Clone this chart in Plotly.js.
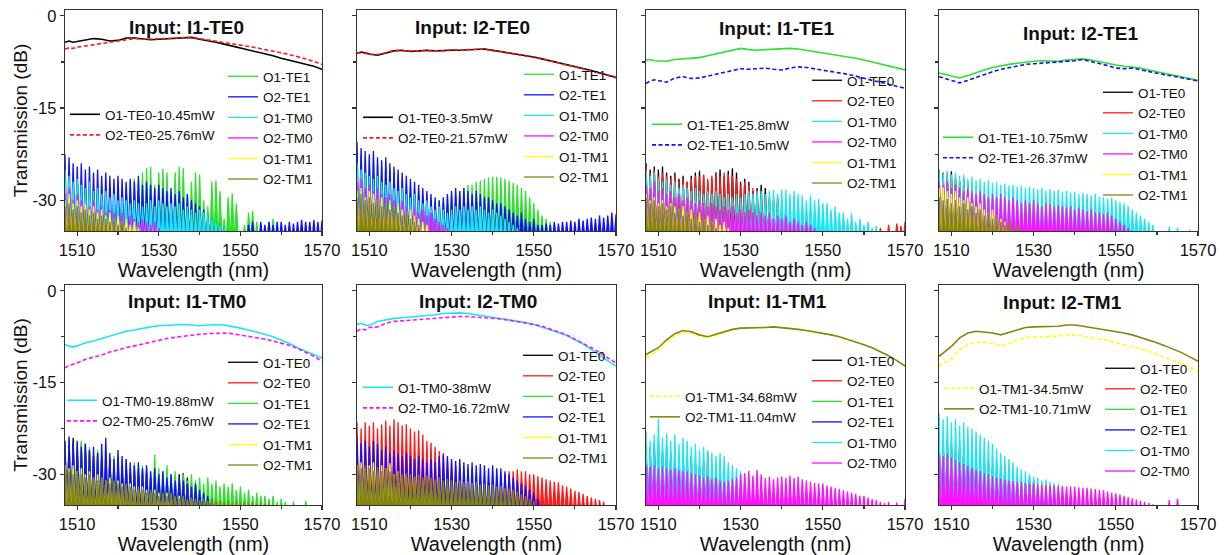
<!DOCTYPE html>
<html><head><meta charset="utf-8">
<script src="https://cdn.plot.ly/plotly-3.0.1.min.js"></script>
<style>html,body{margin:0;padding:0;background:#fff;}#chart{width:1228px;height:555px;}</style>
</head><body><div id="chart"></div>
<script>
// ---------- wavelength grids (nm) ----------
const mainWl = [1507,1508,1509,1510,1512,1514,1516,1518,1520,1522,1524,1526,1528,1530,1532,1534,1536,1538,1540,1542,1544,1546,1548,1550,1552,1554,1556,1558,1560,1562,1564,1566,1568,1570];
const noiseWl = [1507,1508,1509,1510,1511,1512,1513,1514,1515,1516,1517,1518,1519,1520,1521,1522,1523,1524,1525,1526,1527,1528,1529,1530,1531,1532,1533,1534,1535,1536,1537,1538,1539,1540,1541,1542,1543,1544,1545,1546,1547,1548,1549,1550,1551,1552,1553,1554,1555,1556,1557,1558,1559,1560,1561,1562,1563,1564,1565,1566,1567,1568,1569,1570];

// ---------- main (target) outputs, dB ----------
const m1_O1TE0 = [-4.3,-4.1,-4.3,-4.2,-4.0,-3.7,-3.8,-4.1,-4.0,-3.6,-3.6,-3.8,-3.9,-3.8,-3.7,-3.7,-3.6,-3.5,-3.8,-4.0,-4.3,-4.6,-4.9,-5.2,-5.5,-5.8,-6.1,-6.5,-6.9,-7.2,-7.5,-7.8,-8.2,-8.7];
const m1_O2TE0 = [-5.4,-5.2,-5.3,-5.1,-4.9,-4.7,-4.5,-4.4,-4.2,-3.9,-3.7,-3.8,-3.8,-3.7,-3.7,-3.6,-3.6,-3.5,-3.7,-3.9,-4.1,-4.4,-4.6,-4.8,-5.0,-5.2,-5.5,-5.7,-6.0,-6.3,-6.6,-7.0,-7.4,-7.9];
const m2_O1TE0 = [-6.1,-5.9,-6.0,-6.2,-6.4,-6.1,-5.7,-5.6,-5.8,-5.7,-5.6,-5.7,-5.6,-5.6,-5.6,-5.5,-5.4,-5.4,-5.6,-5.8,-6.0,-6.3,-6.5,-6.7,-7.0,-7.3,-7.6,-7.9,-8.3,-8.6,-8.9,-9.3,-9.6,-10.0];
const m2_O2TE0 = [-6.0,-6.0,-6.1,-6.3,-6.3,-6.0,-5.6,-5.7,-5.7,-5.6,-5.7,-5.6,-5.7,-5.5,-5.6,-5.5,-5.5,-5.4,-5.7,-5.8,-6.1,-6.3,-6.6,-6.8,-7.0,-7.3,-7.7,-8.0,-8.3,-8.7,-9.0,-9.3,-9.7,-10.1];
const m3_O1TE1 = [-7.2,-7.1,-7.3,-7.3,-7.4,-7.1,-7.0,-6.9,-6.8,-6.5,-6.2,-5.9,-5.6,-5.3,-5.5,-5.6,-5.5,-5.4,-5.4,-5.3,-5.4,-5.6,-5.9,-6.1,-6.3,-6.5,-6.7,-6.9,-7.2,-7.5,-7.8,-8.1,-8.4,-8.8];
const m3_O2TE1 = [-11.0,-10.6,-10.4,-10.5,-10.8,-10.1,-9.9,-10.2,-10.1,-9.8,-9.5,-9.3,-8.9,-8.6,-8.7,-8.6,-8.5,-8.7,-8.8,-8.5,-8.3,-8.4,-8.6,-8.8,-9.0,-9.2,-9.5,-9.8,-10.2,-10.5,-10.8,-11.1,-11.4,-11.8];
const m4_O1TE1 = [-9.3,-9.4,-9.6,-9.8,-10.1,-9.7,-9.2,-8.8,-8.4,-8.1,-7.9,-7.7,-7.5,-7.4,-7.3,-7.4,-7.4,-7.2,-7.1,-7.0,-7.2,-7.5,-7.8,-8.0,-8.2,-8.3,-8.5,-8.8,-9.1,-9.4,-9.6,-9.9,-10.2,-10.5];
const m4_O2TE1 = [-9.9,-10.1,-10.3,-10.5,-10.9,-10.5,-10.0,-9.5,-9.1,-8.7,-8.4,-8.1,-7.9,-7.8,-7.7,-7.7,-7.6,-7.4,-7.3,-7.1,-7.4,-7.7,-8.1,-8.5,-8.6,-8.5,-8.8,-9.1,-9.4,-9.6,-9.8,-10.1,-10.3,-10.6];
const m5_O1TM0 = [-8.8,-9.0,-9.2,-9.0,-8.5,-8.2,-7.8,-7.3,-6.9,-6.6,-6.4,-6.1,-5.9,-5.7,-5.6,-5.6,-5.5,-5.6,-5.7,-5.6,-5.5,-5.6,-5.8,-6.1,-6.4,-6.7,-7.1,-7.5,-8.0,-8.6,-9.3,-9.9,-10.5,-11.0];
const m5_O2TM0 = [-12.6,-12.2,-12.0,-11.8,-11.2,-10.9,-10.5,-10.0,-9.6,-9.3,-9.0,-8.7,-8.3,-8.0,-7.8,-7.6,-7.4,-7.2,-7.1,-7.0,-6.9,-6.9,-7.0,-7.2,-7.4,-7.6,-7.9,-8.2,-8.5,-8.9,-9.4,-10.0,-10.7,-11.5];
const m6_O1TM0 = [-5.5,-5.3,-5.6,-5.7,-5.0,-4.7,-4.5,-4.4,-4.3,-4.1,-4.0,-3.9,-3.7,-3.6,-3.6,-3.7,-3.9,-4.1,-4.3,-4.5,-4.7,-4.9,-5.2,-5.5,-5.9,-6.3,-6.8,-7.3,-8.0,-8.7,-9.6,-10.5,-11.4,-12.3];
const m6_O2TM0 = [-6.6,-6.2,-6.4,-6.0,-5.9,-5.3,-5.0,-4.9,-4.8,-4.6,-4.5,-4.4,-4.3,-4.2,-4.2,-4.2,-4.3,-4.3,-4.4,-4.6,-4.8,-5.0,-5.2,-5.5,-5.8,-6.2,-6.7,-7.2,-7.9,-8.5,-9.3,-10.1,-10.9,-11.8];
const m7_O1TM1 = [-10.9,-10.5,-10.2,-9.7,-8.3,-7.3,-6.8,-6.9,-7.4,-7.7,-7.3,-6.8,-6.4,-6.2,-6.1,-6.1,-6.0,-5.9,-6.0,-6.1,-6.3,-6.5,-6.7,-6.9,-7.2,-7.5,-7.9,-8.3,-8.8,-9.3,-9.9,-10.6,-11.4,-12.3];
const m7_O2TM1 = [-10.4,-10.0,-9.6,-9.3,-8.0,-7.0,-6.5,-6.7,-7.2,-7.5,-7.1,-6.7,-6.3,-6.1,-6.1,-6.1,-6.0,-5.9,-6.0,-6.1,-6.3,-6.5,-6.7,-6.9,-7.2,-7.5,-7.9,-8.3,-8.8,-9.3,-9.9,-10.6,-11.4,-12.3];
const m8_O1TM1 = [-12.3,-11.8,-11.5,-11.2,-9.6,-8.8,-8.4,-8.4,-8.6,-9.1,-8.6,-8.0,-7.7,-7.5,-7.5,-7.5,-7.4,-7.2,-7.2,-7.4,-7.6,-7.8,-8.1,-8.5,-8.8,-9.1,-9.5,-9.9,-10.4,-10.8,-11.3,-11.9,-12.5,-13.2];
const m8_O2TM1 = [-10.7,-10.2,-9.6,-9.1,-7.7,-6.9,-6.6,-6.7,-6.9,-7.2,-6.8,-6.4,-6.0,-5.9,-5.9,-5.9,-5.8,-5.6,-5.6,-5.8,-6.0,-6.2,-6.4,-6.6,-6.9,-7.2,-7.6,-8.0,-8.5,-9.0,-9.5,-10.1,-10.8,-11.5];

// ---------- crosstalk peaks on the 1-nm grid, dB ----------
const n1_O1TE1 = [-28,-29,-27.5,-28.5,-29,-28,-29.5,-28.5,-29,-30,-28.5,-29.5,-30,-29,-28,-27.5,-27,-26.5,-27,-25.5,-24.8,-24.6,-27.5,-25.5,-24.9,-25.5,-30,-25.5,-24.5,-24.8,-29,-27,-25.5,-25.8,-30,-31,-27,-26.8,-28.5,-33,-29.5,-28.9,-30.5,-35,-34,-32,-31.7,-33.5,-35,-35,-33.5,-33,-34.5,-35,-35,-34.3,-35];
const n1_O2TE1 = [-22.5,-23,-24,-24.5,-24,-25,-24.5,-25.5,-25,-26,-25.5,-26,-26.5,-26,-26.5,-27,-26.5,-27,-26,-27.5,-27,-27.5,-28,-27.5,-28,-28.5,-28,-29,-28.5,-29.5,-29,-30,-30.5,-31,-31.5,-32.5,-33,-33.5,-34,-34.5,-35,-35,-35,-35,-35,-34,-33.5,-35,-33.5,-34,-33.5,-34,-33.5,-33.5,-34,-33.5,-33.8,-33.5,-33.2,-33.5,-33.5,-33.2,-33.5,-33.3];
const n1_O1TM0 = [-25,-26,-27,-26.5,-27.5,-28,-27,-28.5,-28,-29,-28.5,-29.5,-29,-30,-29.5,-30,-30.5,-30,-30.5,-31,-30.5,-30,-31,-30,-30.5,-31,-30.5,-31,-30.5,-31.5,-31,-31.5,-32,-31.5,-32,-32.5,-33,-33.5,-34,-34.5,-35];
const n1_O2TM0 = [-29,-28,-30,-29,-30,-30.5,-31,-30,-31.5,-31,-32,-31.5,-32,-32.5,-32,-33,-32.5,-33,-33.5,-33,-33.5,-34,-33.5,-34.5,-35];
const n1_O1TM1 = [-30,-29,-30.5,-30,-31,-30.5,-31.5,-31,-32,-31.5,-32.5,-32,-33,-32.5,-33.5,-33,-34,-33.5,-34.5,-35];
const n1_O2TM1 = [-31,-30.5,-31.5,-31,-32,-31.5,-32.5,-32,-33,-32.5,-33,-33.5,-33,-34,-33.5,-34.5,-35];

const n2_O1TE1 = [-22,-22.5,-23,-23.5,-23,-24,-24.5,-24,-25,-25.5,-26,-26.5,-27,-27.5,-28,-28.5,-29,-29.5,-30,-30.5,-30,-30,-29.5,-29,-29,-28.5,-28,-27.5,-27.5,-27,-26.8,-26.5,-26.3,-26.2,-26.2,-26.3,-26.5,-26.8,-27.2,-27.5,-28,-28.5,-29.5,-30.5,-31.5,-32.5,-33,-33.5,-34,-34.5,-35];
const n2_O2TE1 = [-20.5,-21.5,-22,-22.5,-22,-23,-23.5,-23,-24,-24.5,-25,-25.5,-26,-26.5,-27,-27.5,-28,-28.5,-29,-29.5,-30,-29.5,-29,-28.5,-28,-28.5,-28,-28.5,-29,-28.5,-29,-29.5,-29.5,-30,-30.5,-30.5,-31,-31.5,-32,-32.5,-32,-33,-33.5,-33,-34,-34,-33.8,-34,-33.5,-33.8,-33.5,-33.5,-33.3,-33.5,-33,-33.3,-33,-32.8,-33,-32.5,-32.8,-32.5,-32,-32.3];
const n2_O1TM0 = [-24,-25,-25.5,-26,-26.5,-26,-27,-27.5,-27,-28,-28.5,-28,-29,-29.5,-29,-30,-30.5,-30,-31,-31.5,-31,-31.5,-32,-31.5,-31,-31.5,-31,-31.5,-31,-31.5,-31,-31.5,-32,-31.5,-32,-32.5,-33,-33.5,-34,-34.5,-35];
const n2_O2TM0 = [-27,-26.5,-28,-27.5,-28.5,-28,-29,-29.5,-29,-30,-30.5,-30,-31,-31.5,-31,-32,-31.5,-32.5,-32,-33,-33.5,-34,-34.5,-35];
const n2_O1TM1 = [-28.5,-28,-29.5,-28.5,-29,-30,-29.5,-30.5,-30,-31,-30.5,-31.5,-32,-31.5,-32.5,-33,-33.5,-34,-35];
const n2_O2TM1 = [-29.5,-29,-30,-29.5,-30.5,-30,-31,-30.5,-31.5,-31,-32,-32.5,-32,-33,-33.5,-34,-35];

const n3_O1TE0 = [-24,-25,-24.5,-25,-24.5,-25.5,-26,-25.5,-26.5,-26,-27,-26,-25.5,-25.2,-26,-27,-26.5,-25.5,-25,-26,-25.2,-24.8,-25.5,-27,-26.5,-27,-28.5,-28,-27.5,-28,-29.5,-30,-29.5,-31,-32,-33.5,-34,-35,-35,-35,-35,-33,-35];
const n3_O2TE0 = [-24.5,-25.5,-25,-26,-25.5,-26,-26.5,-26,-27,-26.5,-27,-26.5,-26,-26,-25.8,-26.5,-26,-25.5,-26,-25.5,-25.8,-26,-26.5,-27.5,-27,-27.5,-28,-28.5,-29,-29.5,-30,-30.5,-31,-31.5,-32,-32.5,-33,-33,-33.5,-34,-34,-34.5,-34,-34.5,-35,-35,-35,-35,-35,-35,-35,-35,-35,-35,-35,-35,-35,-34.5,-35,-34,-35,-33.8,-34.2,-33.5];
const n3_O1TM0 = [-25,-26,-25.5,-26.5,-27,-26.5,-27.5,-27,-28,-27.5,-28,-28.5,-28,-28.5,-29,-28.5,-29,-28.5,-29,-29.5,-29,-29.5,-29,-29.5,-29,-28.5,-29,-28.5,-28.5,-29,-28.5,-28.3,-29,-28.3,-28.3,-29,-28.5,-29,-29.2,-30,-29.2,-30,-29.8,-30.5,-30.5,-31.5,-31,-32,-32,-33,-32.2,-33.5,-33,-34,-33.5,-34.5,-34.2,-35];
const n3_O2TM0 = [-27.5,-28,-27,-28.5,-28,-29,-28.5,-29.5,-29,-30,-29.5,-30,-30.5,-30,-30.5,-31,-30.5,-31,-31.5,-31,-31.5,-31,-32,-31.5,-32,-31.5,-32,-32.5,-32,-32.5,-32,-33,-32.5,-33,-32.5,-33.5,-33,-33.5,-34,-33.5,-34,-34.5,-35];
const n3_O1TM1 = [-29,-30,-29.5,-30.5,-30,-31,-30.5,-31,-31.5,-31,-32,-31.5,-32.5,-32,-33,-32.5,-33.5,-33,-34,-33.5,-34.5,-35];
const n3_O2TM1 = [-29.5,-30.5,-30,-31,-30.5,-31.5,-31,-32,-31.5,-32.5,-32,-33,-32.5,-33.5,-33,-34,-33.5,-34.5,-35];

const n4_O1TE0 = [-25.2,-25.5,-26,-25.3,-26.5,-27,-26.5,-27.5,-28,-28.5,-29,-29.5,-30,-30.5,-31,-32,-33,-34,-35];
const n4_O2TE0 = [-25,-25.8,-25.5,-26.5,-26,-27,-27.5,-27,-28,-28.5,-28,-29,-29.5,-30,-30.5,-31,-31.5,-32,-32.5,-33,-33.5,-34,-34.5,-35];
const n4_O1TM0 = [-25,-25.5,-25.2,-25.8,-25.5,-26,-25.8,-26.5,-26.2,-26.8,-26.5,-27,-26.8,-27.2,-27,-27.5,-27.3,-27.6,-27.5,-27.8,-27.6,-28,-27.8,-28,-28.2,-28,-28.4,-28.2,-28.5,-28.3,-28.6,-28.5,-28.8,-28.6,-29,-28.8,-29,-29.2,-29,-29.4,-29.5,-29.8,-29.6,-30,-30.3,-30.5,-31,-31.5,-32,-32.5,-33,-33.5,-34,-35,-35,-35,-34.3,-35,-34.5,-35,-35,-34.8,-35];
const n4_O2TM0 = [-27,-27.5,-27,-28,-27.5,-28,-28.5,-28,-28.5,-29,-28.5,-29,-29.5,-29,-29.5,-29,-29.5,-30,-29.5,-30,-30.5,-30,-30.5,-30,-30.5,-31,-30.5,-30.6,-31,-30.8,-31,-31.2,-31,-31.5,-31.2,-31.5,-31.8,-31.5,-32,-32,-32.3,-32,-32.5,-33,-33.5,-34,-34.5,-35];
const n4_O1TM1 = [-28,-27.9,-28.5,-29,-28.5,-29.5,-30,-29.5,-30.5,-31,-30.5,-31.5,-32,-31.5,-32.5,-33,-33.5,-34,-35];
const n4_O2TM1 = [-29.5,-30,-29.8,-30.5,-30,-31,-30.5,-31.5,-31,-32,-31.5,-32.5,-32,-33,-32.5,-33.5,-34,-33.5,-34.5,-34,-35];

const n5_O1TE0 = [-24.5,-25,-24,-25.5,-26,-25,-26.5,-27,-26.5,-27.5,-28,-27.5,-28.5,-28,-29,-28.5,-29.5,-29,-30,-29.5,-30,-30.5,-30,-30.5,-31,-30.5,-31,-30.5,-30,-29.8,-30.5,-31.5,-32,-33,-33.5,-34,-34.5,-35];
const n5_O2TE0 = [-25,-24.5,-25.5,-26,-25,-26.5,-26,-27,-27.5,-27,-28,-27.5,-28.5,-28,-29,-28.5,-29,-29.5,-29,-30,-29.5,-30.5,-29,-30,-31,-30.5,-31.5,-31,-32,-32.5,-33,-33.5,-34,-35];
const n5_O1TE1 = [-25,-24,-26,-25,-24.5,-26,-25.5,-27,-26,-27.5,-26.5,-28,-27,-27.5,-28.5,-27.5,-29,-28,-29.5,-28.5,-29,-29.5,-26.8,-29,-29.5,-28.5,-30,-29.5,-30.5,-30,-31,-30,-31,-30.5,-31.5,-30.5,-31.5,-31,-32,-31.5,-32,-31.5,-32.5,-32,-33,-32.5,-33.5,-33,-33.5,-33.5,-34,-33.5,-34.5,-34,-34.5,-35,-34.5,-35,-35,-34.3,-35];
const n5_O2TE1 = [-25,-23.8,-25,-24.5,-25.5,-25,-26,-25.5,-26.5,-25,-24,-26.5,-27.5,-26,-27,-27.5,-28,-28.5,-28,-29,-28.5,-29.5,-29,-30,-29.5,-30.5,-30,-31,-30.5,-31,-31.5,-32,-31.5,-32.5,-33,-33.5,-34,-34.5,-35];
const n5_O1TM1 = [-28.5,-29,-28.5,-29.5,-29,-30,-29.5,-30.5,-30,-30.5,-31,-30.5,-31.5,-31,-31.5,-32,-31.5,-32,-32.5,-32,-32.5,-33,-32.5,-33,-33.5,-33,-33.5,-34,-33.5,-34,-34.5,-34,-34.5,-35];
const n5_O2TM1 = [-29,-29.5,-30,-29.5,-30,-30.5,-30,-30.5,-31,-30.5,-31,-31.5,-31,-31.5,-32,-31.5,-32,-32.5,-32,-32.5,-33,-32.5,-33,-33.5,-33,-33.5,-33,-33.5,-34,-33.5,-34,-33.8,-34,-34.2,-34,-34.3,-34,-34.5,-34.2,-34.5,-34.3,-34.6,-34.4,-34.6,-34.5,-34.7,-34.5,-34.8,-34.6,-34.8,-34.7,-35];

const n6_O1TE0 = [-27,-28,-27.5,-28.5,-29,-28.5,-29.5,-30,-30.5,-31,-31.5,-32,-33,-34,-35];
const n6_O2TE0 = [-21.5,-22.5,-21.5,-22,-21.5,-22.5,-21.8,-21.2,-22,-21,-21.5,-22,-21.8,-22.5,-23,-22.8,-23.5,-24.5,-24.8,-25.5,-26.2,-26.5,-27.5,-28,-28.5,-29,-29.5,-30,-30.5,-30.5,-31,-31,-31,-31,-30.5,-30.5,-30,-29.5,-29.5,-29.2,-29.5,-29.5,-30,-30,-30.3,-30.5,-30.8,-31,-31.2,-31.3,-31.8,-32,-32.3,-32.7,-32.9,-33.2,-33.5,-33.8,-34,-34.2,-34.5,-35];
const n6_O1TE1 = [-27.5,-28.5,-28,-29,-28.5,-29.5,-30,-29.5,-30.5,-31,-31.5,-32,-32.5,-33,-34,-35];
const n6_O2TE1 = [-24,-25,-24.5,-25.5,-24.5,-25,-26,-25.5,-26.5,-26,-26.5,-27,-26.5,-27,-27.5,-27,-27.5,-28,-27.5,-28,-27,-26.8,-27,-27.5,-27.8,-27.5,-28,-28.3,-28,-28.5,-28.3,-28.5,-29,-28.5,-29,-29,-29.5,-30,-30.5,-31,-31.5,-32,-32.5,-33,-34,-35];
const n6_O1TM1 = [-28.5,-28,-29,-28.5,-28,-29.5,-28.5,-29,-28.2,-30,-29.5,-30.5,-30,-31,-30.5,-31.5,-31,-32,-31.5,-32.5,-32,-33,-32.5,-33.5,-33,-34,-35];
const n6_O2TM1 = [-28.5,-29,-28.5,-29,-29.5,-28.8,-29.5,-29,-29.5,-30,-29.5,-30,-29.8,-30,-30.3,-30,-30.5,-30.2,-30.5,-30.8,-30.5,-31,-30.7,-31,-31.2,-31,-31.3,-31.1,-31.4,-31.3,-31.6,-31.5,-31.8,-31.7,-32,-31.9,-32.2,-32.3,-32.5,-32.8,-33.2,-33.6,-34,-34.5,-35];

const n7_O1TE0 = [-26,-27,-26.5,-27.5,-28,-28.5,-29,-29.5,-30,-31,-32,-33,-34,-35];
const n7_O2TE0 = [-26.5,-27,-27.5,-27,-28,-28.5,-28,-29,-29.5,-29,-30,-30.5,-30,-29,-28,-26.4,-30,-31,-32,-33,-34,-35];
const n7_O1TE1 = [-26,-27,-26.5,-27.5,-27,-28,-28.5,-28,-29,-29.5,-29,-30,-30.5,-29.5,-30.5,-31,-31.5,-32,-32.5,-33,-34,-35];
const n7_O2TE1 = [-25,-25.5,-24.8,-25.5,-26,-25.2,-26.5,-26,-27,-26.5,-27.5,-27,-28,-28.5,-28,-29,-29.5,-29,-30,-30.5,-31,-32,-33,-34,-35];
const n7_O1TM0 = [-23,-24.5,-23.5,-21,-24,-23.3,-24.5,-23.5,-25,-24,-24.5,-25.5,-25,-26,-25.5,-26,-26.5,-27,-26.5,-27,-28,-28.5,-29,-29.5,-30,-31,-32,-35];
const n7_O2TM0 = [-28.5,-28.8,-28.5,-29,-28.7,-29,-29.2,-29,-29.3,-29.5,-29.5,-29.8,-30,-30.2,-30.5,-30.3,-30.8,-30.5,-31,-31.2,-31,-30.8,-30.5,-30,-29.8,-29.4,-30.2,-29.3,-30,-30.6,-30.4,-30.8,-30.5,-30.3,-30.6,-30.2,-30.6,-30.4,-30.8,-31,-31.2,-31.4,-31.5,-31.5,-31.8,-32,-32.2,-32.4,-32.6,-32.8,-33,-33.2,-33.5,-33.5,-33.8,-34,-34.2,-34.5,-34.7,-34.5,-35,-34.6,-35,-34];

const n8_O1TE0 = [-24,-25,-24.5,-25.5,-26,-25.5,-26.5,-27,-27.5,-28,-28.5,-29,-29.5,-30,-30.5,-31,-31.5,-32,-32.5,-33,-33.5,-34,-34.5,-35];
const n8_O2TE0 = [-24.5,-25,-25.5,-25,-26,-26.5,-26,-27,-27.5,-27,-28,-28.5,-28,-29,-29.5,-29,-28.5,-30,-30.5,-31,-31.5,-32,-32.5,-33,-34,-35];
const n8_O1TE1 = [-25,-25.5,-26,-26.5,-26,-27,-27.5,-28,-28.5,-29,-29.5,-30,-30.5,-31,-31.5,-32,-32.5,-33,-33.5,-34,-35];
const n8_O2TE1 = [-24.5,-25.5,-25,-26,-26.5,-26,-27,-27.5,-27,-28,-28.5,-28,-29,-29.5,-29,-30,-30.5,-30,-31,-30.5,-31,-31.5,-30.5,-31,-32,-33,-34,-35];
const n8_O1TM0 = [-20,-21,-20.5,-21.5,-21,-22,-21.5,-22.2,-22.5,-23,-23.5,-24,-24.5,-25,-25.8,-26.5,-27,-27.5,-28,-28.7,-29.2,-29.5,-30,-30.3,-30.5,-31,-30.8,-31.2,-31.4,-31.5,-32,-32.5,-33.5,-35];
const n8_O2TM0 = [-26.8,-27,-26.7,-27.2,-27.6,-28,-28.3,-28.6,-28.9,-29.2,-29.5,-29.8,-30,-30.3,-30.5,-30.7,-30.9,-31,-31.1,-31.2,-31.3,-31.4,-31.5,-31.5,-31.6,-31.7,-31.7,-31.8,-31.8,-31.9,-31.9,-32,-32,-32,-32.1,-32.2,-32.2,-32.3,-32.4,-32.5,-32.6,-32.8,-33,-33.1,-33.3,-33.5,-33.7,-33.9,-34.1,-34.3,-34.5,-34.7,-34.9,-35,-35,-35,-34.2,-35,-34,-35];

// ---------- text ----------
const panelTitles = ['Input: I1-TE0','Input: I2-TE0','Input: I1-TE1','Input: I2-TE1','Input: I1-TM0','Input: I2-TM0','Input: I1-TM1','Input: I2-TM1'];
const mainNames = [
  ['O1-TE0-10.45mW','O2-TE0-25.76mW'], ['O1-TE0-3.5mW','O2-TE0-21.57mW'],
  ['O1-TE1-25.8mW','O2-TE1-10.5mW'], ['O1-TE1-10.75mW','O2-TE1-26.37mW'],
  ['O1-TM0-19.88mW','O2-TM0-25.76mW'], ['O1-TM0-38mW','O2-TM0-16.72mW'],
  ['O1-TM1-34.68mW','O2-TM1-11.04mW'], ['O1-TM1-34.5mW','O2-TM1-10.71mW']];
const xTickVals = [1510,1530,1550,1570];
const xTickText = ['1510','1530','1550','1570'];
const yTickVals = [0,-15,-30];
const yTickText = ['0','-15','-30'];

// ---------- styling ----------
const C = {O1TE0:'#000000',O2TE0:'#ff1a1a',O1TE1:'#2fe02f',O2TE1:'#1010ff',O1TM0:'#1ee6f0',O2TM0:'#ff10ff',O1TM1:'#ffff10',O2TM1:'#858510'};
const DASHED = {O2TE0:1,O2TE1:1,O2TM0:1,O1TM1:1};
const panelMain = [
  [['O1TE0',m1_O1TE0],['O2TE0',m1_O2TE0]],
  [['O1TE0',m2_O1TE0],['O2TE0',m2_O2TE0]],
  [['O1TE1',m3_O1TE1],['O2TE1',m3_O2TE1]],
  [['O1TE1',m4_O1TE1],['O2TE1',m4_O2TE1]],
  [['O1TM0',m5_O1TM0],['O2TM0',m5_O2TM0]],
  [['O1TM0',m6_O1TM0],['O2TM0',m6_O2TM0]],
  [['O1TM1',m7_O1TM1],['O2TM1',m7_O2TM1]],
  [['O1TM1',m8_O1TM1],['O2TM1',m8_O2TM1]]];
const panelNoise = [
  [['O1TE1',n1_O1TE1],['O2TE1',n1_O2TE1],['O1TM0',n1_O1TM0],['O2TM0',n1_O2TM0],['O1TM1',n1_O1TM1],['O2TM1',n1_O2TM1]],
  [['O1TE1',n2_O1TE1],['O2TE1',n2_O2TE1],['O1TM0',n2_O1TM0],['O2TM0',n2_O2TM0],['O1TM1',n2_O1TM1],['O2TM1',n2_O2TM1]],
  [['O1TE0',n3_O1TE0],['O2TE0',n3_O2TE0],['O1TM0',n3_O1TM0],['O2TM0',n3_O2TM0],['O1TM1',n3_O1TM1],['O2TM1',n3_O2TM1]],
  [['O1TE0',n4_O1TE0],['O2TE0',n4_O2TE0],['O1TM0',n4_O1TM0],['O2TM0',n4_O2TM0],['O1TM1',n4_O1TM1],['O2TM1',n4_O2TM1]],
  [['O1TE0',n5_O1TE0],['O2TE0',n5_O2TE0],['O1TE1',n5_O1TE1],['O2TE1',n5_O2TE1],['O1TM1',n5_O1TM1],['O2TM1',n5_O2TM1]],
  [['O1TE0',n6_O1TE0],['O2TE0',n6_O2TE0],['O1TE1',n6_O1TE1],['O2TE1',n6_O2TE1],['O1TM1',n6_O1TM1],['O2TM1',n6_O2TM1]],
  [['O1TE0',n7_O1TE0],['O2TE0',n7_O2TE0],['O1TE1',n7_O1TE1],['O2TE1',n7_O2TE1],['O1TM0',n7_O1TM0],['O2TM0',n7_O2TM0]],
  [['O1TE0',n8_O1TE0],['O2TE0',n8_O2TE0],['O1TE1',n8_O1TE1],['O2TE1',n8_O2TE1],['O1TM0',n8_O1TM0],['O2TM0',n8_O2TM0]]];
const label = k => k.replace(/^(O\d)(T[EM]\d)$/, '$1-$2');

const colX = [[0.0529,0.2622],[0.2907,0.5016],[0.5261,0.7370],[0.7647,0.9756]];
const rowY = [[0.5838,0.982],[0.0901,0.4865]];
const titlePos = [[0.1515,0.951],[0.3848,0.951],[0.6327,0.9495],[0.8795,0.9405],[0.1523,0.456],[0.3893,0.4559],[0.6246,0.4559],[0.8656,0.4541]];
// legend anchors [x, y] for main legend, then crosstalk legend
const legPos = [
  [[0.0529,0.8216],[0.1816,0.8901]], [[0.2915,0.8162],[0.4226,0.8937]],
  [[0.5269,0.8036],[0.6572,0.8829]], [[0.7638,0.7802],[0.8941,0.8613]],
  [[0.0505,0.3063],[0.1816,0.3748]], [[0.2915,0.3297],[0.4218,0.3874]],
  [[0.5252,0.3135],[0.6572,0.3784]], [[0.7647,0.3279],[0.8958,0.3640]]];

const FONT = 'Liberation Sans, Arial, sans-serif';
const FLOOR = -37, HALF = 0.45;
const traces = [];
const layout = {width:1228, height:555, margin:{l:0,r:0,t:0,b:0}, paper_bgcolor:'#fff', plot_bgcolor:'#fff', showlegend:true, annotations:[]};

function spikes(vals){
  const x=[], y=[];
  vals.forEach((v,i)=>{ const l=noiseWl[i]; x.push(l-HALF,l,l+HALF); y.push(FLOOR,v,FLOOR); });
  return {x,y};
}

for (let p=0;p<8;p++){
  const r = Math.floor(p/4), c = p%4, n = p+1;
  const xa = n===1?'x':'x'+n, ya = n===1?'y':'y'+n;
  const xk = n===1?'xaxis':'xaxis'+n, yk = n===1?'yaxis':'yaxis'+n;
  const legMain = 2*p+1===1?'legend':'legend'+(2*p+1), legNoise = 'legend'+(2*p+2);
  panelNoise[p].forEach(([k,vals])=>{
    const s = spikes(vals);
    traces.push({type:'scatter',mode:'lines',x:s.x,y:s.y,xaxis:xa,yaxis:ya,showlegend:false,
      line:{color:C[k],width:0},fill:'toself',fillcolor:C[k],hoverinfo:'skip'});
    traces.push({type:'scatter',mode:'lines',x:s.x,y:s.y,xaxis:xa,yaxis:ya,name:label(k),legend:legNoise,
      line:{color:C[k],width:1.3},hoverinfo:'skip'});
  });
  panelMain[p].forEach(([k,vals],j)=>{
    traces.push({type:'scatter',mode:'lines',x:mainWl,y:vals,xaxis:xa,yaxis:ya,name:mainNames[p][j],legend:legMain,
      line:{color:C[k],width:1.6,dash:DASHED[k]?'4px,2.5px':'solid'}});
  });
  const axBase = {showline:true,mirror:true,linecolor:'#333',linewidth:1.2,ticks:'outside',ticklen:4,tickwidth:1.2,tickcolor:'#333',
    showgrid:false,zeroline:false,tickfont:{family:FONT,size:16.5,color:'#111'}};
  layout[xk] = Object.assign({},axBase,{domain:colX[c],anchor:ya,range:[1507,1570],tickvals:xTickVals,ticktext:xTickText,
    minor:{tickvals:[1520,1540,1560],ticklen:3,ticks:'outside',tickcolor:'#333'},
    title:{text:'Wavelength (nm)',font:{family:FONT,size:20,color:'#111'},standoff:3}});
  layout[yk] = Object.assign({},axBase,{domain:rowY[r],anchor:xa,range:[-35,0.95],tickvals:yTickVals,ticktext:yTickText,
    showticklabels:c===0,minor:{tickvals:[-7.5,-22.5],ticklen:3,ticks:'outside',tickcolor:'#333'},
    title:{text:c===0?'Transmission (dB)':'',font:{family:FONT,size:19,color:'#111'},standoff:0}});
  const lb = {xanchor:'left',yanchor:'top',bgcolor:'rgba(0,0,0,0)',borderwidth:0,font:{family:FONT,size:13.5,color:'#111'},
    tracegroupgap:0,itemwidth:30,traceorder:'normal'};
  layout[legMain] = Object.assign({},lb,{x:legPos[p][0][0],y:legPos[p][0][1]});
  layout[legNoise] = Object.assign({},lb,{x:legPos[p][1][0],y:legPos[p][1][1]});
  layout.annotations.push({text:'<b>'+panelTitles[p]+'</b>',xref:'paper',yref:'paper',x:titlePos[p][0],y:titlePos[p][1],
    xanchor:'center',yanchor:'middle',showarrow:false,font:{family:FONT,size:19,color:'#111'}});
}
Plotly.newPlot('chart',traces,layout,{displayModeBar:false,staticPlot:true});
</script></body></html>
